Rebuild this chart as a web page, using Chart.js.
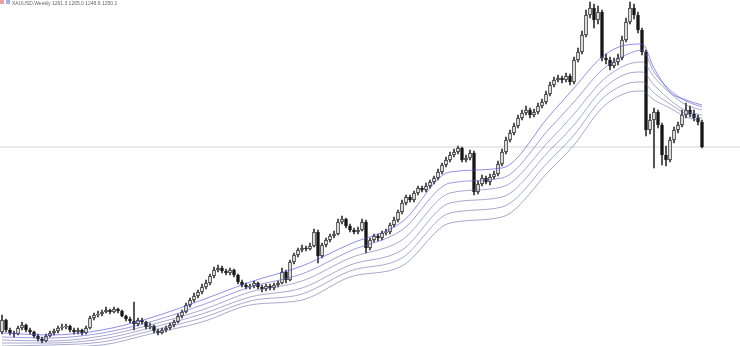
<!DOCTYPE html>
<html>
<head>
<meta charset="utf-8">
<script src="https://cdn.jsdelivr.net/npm/chart.js@4"></script>
<style>
  html, body { margin: 0; padding: 0; background: #fff; }
  #wrap { position: relative; width: 740px; height: 346px; }
  #title { position: absolute; left: 0; top: 0; font: 5px "Liberation Sans", Arial, sans-serif; color: #666; white-space: nowrap; }
  #title i { display: inline-block; width: 4px; height: 4px; margin-right: 2px; vertical-align: top; }
</style>
</head>
<body>
<div id="wrap">
  <canvas id="mychart" width="740" height="346"></canvas>
  <div id="title"><i style="background:#e9a0a0"></i><i style="background:#9fb3e6"></i>XAUUSD,Weekly 1261.3 1265.0 1248.6 1250.1</div>
</div>
<script>
// candle prices (chart units, higher = up)
const opens = [14,26,16,13,12,18,21,16,14,10,7,5,10,13,15,18,19,20,16,14,
  16,13,18,28,31,32,34,36,34,37,35,30,27,25,22,26,24,19,20,15,
  13,16,18,21,24,30,34,41,46,50,54,59,63,70,76,78,75,73,76,71,
  64,61,59,60,63,59,57,60,58,61,63,74,66,84,91,96,98,97,100,114,
  90,101,106,110,112,124,127,120,116,114,116,124,98,106,110,108,113,114,121,126,
  134,143,149,146,153,158,156,160,164,168,174,181,186,191,194,198,186,188,193,154,
  162,168,164,169,172,182,194,206,213,220,228,233,236,231,234,240,244,252,261,266,
  268,266,270,264,286,294,311,331,338,326,334,288,286,280,284,288,306,324,338,331,
  316,294,216,226,234,221,191,186,206,216,221,231,236,232,228,224];
const highs = [31,27,18,15,20,24,22,18,15,12,9,12,15,17,20,22,22,21,18,18,
  17,20,30,33,35,36,39,37,39,38,36,31,29,44,28,28,25,23,21,17,
  18,20,23,26,32,36,43,48,53,56,62,66,72,79,81,80,77,78,77,72,
  66,63,62,65,64,61,62,62,63,65,78,76,86,93,98,101,100,103,117,116,
  103,108,112,115,127,130,128,122,118,119,127,126,108,112,112,115,117,123,129,136,
  146,151,151,155,160,160,163,166,170,177,183,189,194,197,200,199,191,196,195,165,
  171,170,172,175,185,197,209,216,223,231,236,240,238,237,243,247,255,264,269,271,
  270,273,272,289,298,315,336,344,342,340,336,292,289,288,292,310,328,344,342,334,
  318,296,232,238,236,223,200,209,219,224,236,243,240,236,231,226];
const lows = [12,14,11,9,11,16,14,12,8,5,3,4,9,11,13,16,17,14,12,12,
  11,12,17,26,29,30,33,32,33,33,29,25,23,16,20,22,17,17,13,11,
  12,14,16,19,23,28,33,39,44,48,52,57,61,68,74,73,71,71,69,62,
  59,57,57,58,57,54,55,56,56,59,62,63,65,82,89,94,95,96,99,83,
  88,99,104,108,111,122,118,114,112,112,115,93,96,104,105,106,111,112,119,124,
  132,141,144,144,151,154,154,158,162,166,172,179,184,189,192,184,184,186,151,152,
  160,162,161,167,170,180,192,204,211,218,226,231,228,229,232,238,242,250,259,264,
  263,264,261,262,284,292,309,328,318,322,285,282,276,278,281,286,304,322,327,313,
  291,210,212,178,218,181,180,184,203,213,219,228,229,225,221,198];
const closes = [26,16,13,12,18,21,16,14,10,7,5,10,13,15,18,19,20,16,14,16,
  13,18,28,31,32,34,36,34,37,35,30,27,25,22,26,24,19,20,15,13,
  16,18,21,24,30,34,41,46,50,54,59,63,70,76,78,75,73,76,71,64,
  61,59,60,63,59,57,60,58,61,63,74,66,84,91,96,98,97,100,114,90,
  101,106,110,112,124,127,120,116,114,116,124,98,106,110,108,113,114,121,126,134,
  143,149,146,153,158,156,160,164,168,174,181,186,191,194,198,186,188,193,154,162,
  168,164,169,172,182,194,206,213,220,228,233,236,231,234,240,244,252,261,266,268,
  266,270,264,286,294,311,331,338,326,334,288,286,280,284,288,306,324,338,331,316,
  294,216,226,234,221,191,186,206,216,221,231,236,232,228,224,199];

// moving average lines, read at these bar numbers
const maBars = [0,12,25,37,50,62,75,87,100,112,125,137,143,150,156,160,163,167,171,175];
const ma1 = [13,11,16,28,46,64,80,102,124,174,178,231,258,289,301,302,278,254,246,241];
const ma2 = [9,8,13,24,41,59,72,95,116,163,168,218,244,276,291,296,274,256,245,239];
const ma3 = [6,5,10,21,36,54,65,88,106,153,159,206,232,265,281,284,269,253,241,236];
const ma4 = [3,3,7,18,32,49,58,81,96,143,149,196,221,256,272,274,261,246,235,231];
const ma5 = [0,1,4,15,28,45,52,75,88,133,139,186,211,247,262,264,253,242,232,228];
const ma6 = [-3,-1,1,12,24,41,46,69,80,123,129,176,201,238,253,255,246,238,229,225];

const xMin = -0.5, xMax = 184.5;
const lastPrice = closes[closes.length - 1];

const bodies = closes.map((c, i) => ({ x: i, y: [opens[i], c] }));
const wicks = closes.map((c, i) => ({ x: i, y: [lows[i], highs[i]] }));
const bodyFill = closes.map((c, i) => c >= opens[i] ? '#ffffff' : '#111111');

function maLine(vals, color) {
  return {
    type: 'line',
    data: vals.map((v, k) => ({ x: maBars[k], y: v })),
    borderColor: color,
    borderWidth: 0.8,
    pointRadius: 0,
    cubicInterpolationMode: 'monotone',
    order: 0
  };
}

const ctx = document.getElementById('mychart');
const myChart = new Chart(ctx, {
  type: 'bar',
  data: {
    datasets: [
      maLine(ma1, 'rgba(80,80,220,0.8)'),
      maLine(ma2, 'rgba(90,90,210,0.75)'),
      maLine(ma3, 'rgba(100,100,170,0.7)'),
      maLine(ma4, 'rgba(100,100,170,0.7)'),
      maLine(ma5, 'rgba(100,100,170,0.7)'),
      maLine(ma6, 'rgba(100,100,170,0.7)'),
      {
        data: bodies,
        backgroundColor: bodyFill,
        borderColor: '#222222',
        borderWidth: 1,
        borderSkipped: false,
        barThickness: 3,
        grouped: false,
        order: 1
      },
      {
        data: wicks,
        backgroundColor: '#333333',
        borderWidth: 0,
        barThickness: 1,
        grouped: false,
        order: 2
      },
      {
        type: 'line',
        data: [{ x: xMin, y: lastPrice }, { x: xMax, y: lastPrice }],
        borderColor: '#d4d4d4',
        borderWidth: 1,
        pointRadius: 0,
        order: 3
      }
    ]
  },
  options: {
    responsive: false,
    animation: false,
    layout: { padding: 0 },
    scales: {
      x: { type: 'linear', min: xMin, max: xMax, offset: false, display: false },
      y: { min: 0, max: 346, display: false }
    },
    plugins: {
      legend: false,
      tooltip: { enabled: false }
    }
  }
});
</script>
</body>
</html>
